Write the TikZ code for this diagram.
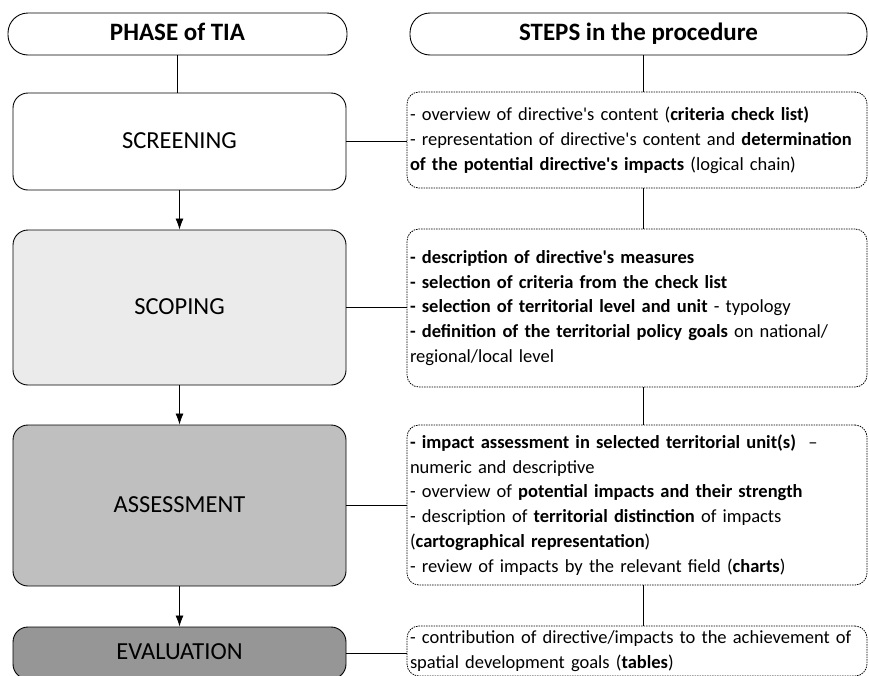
\documentclass[tikz,border=0pt]{standalone}
\usepackage{fontspec}
\setmainfont{Carlito}[Ligatures=TeXOff]
\usetikzlibrary{arrows.meta, positioning}

\begin{document}
\begin{tikzpicture}[x=1pt,y=-1pt]

\tikzset{head/.style = {draw, line width=0.9pt, rounded corners=20pt, minimum width=339pt, minimum height=42pt, text height=17pt, text depth=5pt, font=\fontsize{25}{28}\selectfont\bfseries}}
\tikzset{phasebox/.style = {draw, line width=0.9pt, rounded corners=15pt, minimum width=333pt, text height=17pt, text depth=4pt, font=\fontsize{24.5}{28}\selectfont}}
\tikzset{stepbox/.style = {draw, line width=0.8pt, dash pattern=on 1.5pt off 1pt, rounded corners=12pt, text width=454pt, inner xsep=3pt, align=left, font=\fontsize{18.5}{24.8}\selectfont}}
\tikzset{edge/.style = {-{Latex[length=11pt,width=8pt]}, line width=0.8pt}}
\tikzset{link/.style = {line width=0.8pt}}

\clip (0,0) rectangle (869,675);
% headers
\node[head] (phase) at (177.5,34) {PHASE of TIA};
\node[head, minimum width=457pt] (steps) at (638.5,34) {STEPS in the procedure};
% phases
\node[phasebox, minimum height=97pt] (screen) at (179.5,141.5) {SCREENING};
\node[phasebox, minimum height=155pt, fill=black!8] (scope) at (179.5,307.5) {SCOPING};
\node[phasebox, minimum height=161pt, fill=black!25] (assess) at (179.5,505.5) {ASSESSMENT};
\node[phasebox, minimum height=52pt, fill=black!41] (eval) at (179.5,653) {EVALUATION};
% steps
\node[stepbox, minimum height=96pt] (s1) at (637,140) {- overview of directive's content (\textbf{criteria check list)}\\
- representation of directive's content and \textbf{determination}\\
\textbf{of the potential directive's impacts} (logical chain)};
\node[stepbox, minimum height=158pt] (s2) at (637,308) {\textbf{- description of directive's measures}\\
\textbf{- selection of criteria from the check list}\\
\textbf{- selection of territorial level and unit} - typology\\
\textbf{- definition of the territorial policy goals} on national/\\
regional/local level};
\node[stepbox, minimum height=160pt] (s3) at (637,505) {\textbf{- impact assessment in selected territorial unit(s)}\ \ –\\
numeric and descriptive\\
- overview of \textbf{potential impacts and their strength}\\
- description of \textbf{territorial distinction} of impacts\\
(\textbf{cartographical representation})\\
- review of impacts by the relevant field (\textbf{charts})};
\node[stepbox, minimum height=50pt] (s4) at (637,651) {- contribution of directive/impacts to the achievement of\\
spatial development goals (\textbf{tables})};
%edges
\draw[link] (phase.south) -- (phase.south |- screen.north);
\draw[link] ([xshift=4.5pt]steps.south) -- ([xshift=4.5pt]steps.south |- s1.north);
\draw[edge] (screen) -- (scope);
\draw[edge] (scope) -- (assess);
\draw[edge] (assess) -- (eval);
\draw[link] ([xshift=6pt]s1.south) -- ([xshift=6pt]s1.south |- s2.north);
\draw[link] ([xshift=6pt]s2.south) -- ([xshift=6pt]s2.south |- s3.north);
\draw[link] ([xshift=6pt]s3.south) -- ([xshift=6pt]s3.south |- s4.north);
\draw[link] (screen) -- (screen -| s1.west);
\draw[link] (scope) -- (scope -| s2.west);
\draw[link] (assess) -- (assess -| s3.west);
\draw[link] (eval) -- (eval -| s4.west);
\end{tikzpicture}
\end{document}
